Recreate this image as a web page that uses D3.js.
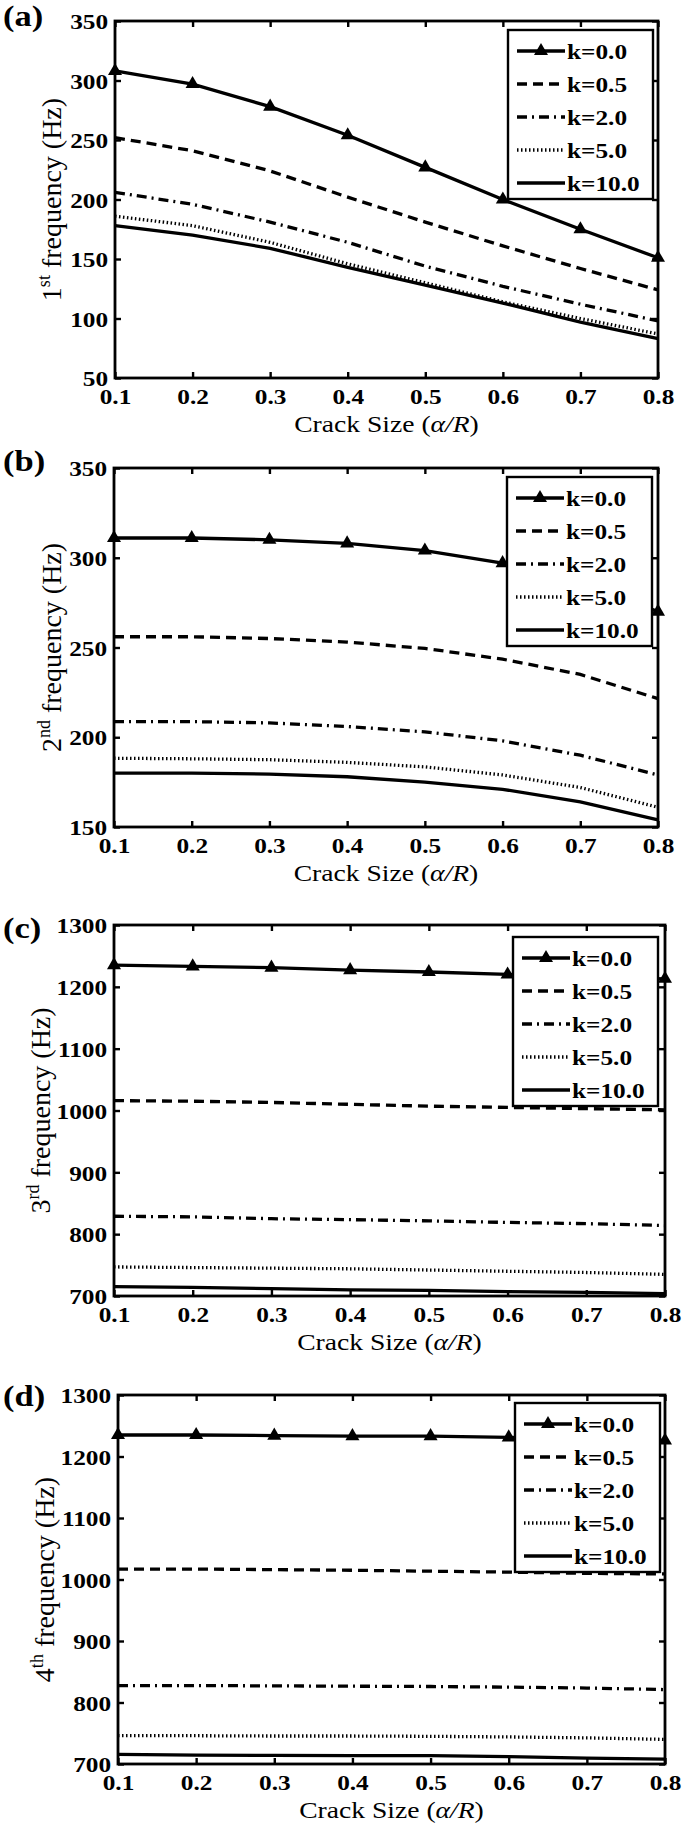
<!DOCTYPE html>
<html>
<head>
<meta charset="utf-8">
<script src="https://cdn.jsdelivr.net/npm/d3@7"></script>
<style>
  body { margin: 0; background: #fff; }
  svg { display: block; }
  text { font-family: "Liberation Serif", "Times New Roman", Times, serif; fill: #000; }
</style>
</head>
<body>
<svg id="chart" width="685" height="1828"></svg>
<script>
// Crack size (alpha/R) on the x axis
const crackSize = [0.1, 0.2, 0.3, 0.4, 0.5, 0.6, 0.7, 0.8];
const kLabels = ["k=0.0", "k=0.5", "k=2.0", "k=5.0", "k=10.0"];

// Frequencies (Hz), one row per k value
const freq1st = [
  [308, 297, 278, 254, 227, 200, 175, 151],
  [252, 241, 224, 202, 181, 161, 142, 124],
  [206, 196, 181, 164, 144, 127, 112, 98],
  [186, 178, 164, 146, 130, 114, 100, 87],
  [178, 170, 159, 143, 128, 113, 97, 83]
];
const freq2nd = [
  [311, 311, 310, 308, 304, 297, 286, 270],
  [256, 256, 255, 253, 249.5, 243.5, 235, 221.5],
  [208.7, 208.7, 208, 206, 203, 198, 190, 179],
  [188.3, 188, 187.5, 186, 183.5, 179, 172, 161],
  [180, 180, 179.5, 178, 175, 171, 164, 154]
];
const freq3rd = [
  [1235, 1233, 1231, 1227, 1224, 1220, 1216, 1213],
  [1016, 1015, 1013, 1010, 1007, 1005, 1003, 1001],
  [829, 828, 825, 823.5, 821.5, 819, 817, 814],
  [747, 746, 745, 744, 742, 740, 738, 735],
  [715, 714, 712, 710, 709, 707, 706, 704]
];
const freq4th = [
  [1235, 1235, 1234, 1233, 1233, 1231, 1229, 1226],
  [1017, 1017, 1016, 1015, 1013.5, 1012, 1010, 1009],
  [827.6, 827.6, 827, 826.5, 826, 825, 823.5, 821],
  [746, 746, 745.5, 745.5, 745, 744, 742.5, 740],
  [715.5, 714.5, 714, 713.5, 713.5, 712, 709.5, 708]
];

const yTicksLow = [50, 100, 150, 200, 250, 300, 350];
const yTicksMid = [150, 200, 250, 300, 350];
const yTicksHigh = [700, 800, 900, 1000, 1100, 1200, 1300];

// Panel layout (pixels)
const panels = [
  { tag: "(a)", tagY: 26, ord: "1", sup: "st", data: freq1st, yDomain: [50, 350], yTicks: yTicksLow,
    l: 115, r: 658, t: 21, b: 378, labelX: 61, legX: 508, legY: 30 },
  { tag: "(b)", tagY: 471, ord: "2", sup: "nd", data: freq2nd, yDomain: [150, 350], yTicks: yTicksMid,
    l: 114, r: 658, t: 468, b: 827, labelX: 61, legX: 507, legY: 477 },
  { tag: "(c)", tagY: 938, ord: "3", sup: "rd", data: freq3rd, yDomain: [700, 1300], yTicks: yTicksHigh,
    l: 114, r: 665, t: 925, b: 1296, labelX: 50, legX: 513, legY: 937 },
  { tag: "(d)", tagY: 1406, ord: "4", sup: "th", data: freq4th, yDomain: [700, 1300], yTicks: yTicksHigh,
    l: 118, r: 665, t: 1395, b: 1764, labelX: 54, legX: 515, legY: 1403 }
];

// line styles per k
const dashes = [null, "10,6", "10,5,2,5", "1.5,2.5", null];
const lineW = 3.3;
const markSize = 85;
const stretch = "scale(1.15,1)";
const svg = d3.select("#chart");

panels.forEach((p) => {
  const g = svg.append("g");
  const x = d3.scaleLinear().domain([0.1, 0.8]).range([p.l, p.r]);
  const y = d3.scaleLinear().domain(p.yDomain).range([p.b, p.t]);

  const line = d3.line()
    .x((d, i) => x(crackSize[i]))
    .y((d) => y(d));

  // series lines
  p.data.forEach((series, k) => {
    g.append("path")
      .datum(series)
      .attr("d", line)
      .attr("fill", "none")
      .attr("stroke", "#000")
      .attr("stroke-width", lineW)
      .attr("stroke-dasharray", dashes[k]);
  });

  // triangle markers on k=0.0
  g.selectAll(".mark")
    .data(p.data[0])
    .enter()
    .append("path")
    .attr("d", d3.symbol(d3.symbolTriangle, markSize))
    .attr("transform", (d, i) => `translate(${x(crackSize[i])},${y(d)})`)
    .attr("fill", "#000");

  // axes with inward ticks on all four sides
  const axisFont = (sel) => sel.attr("font-family", null).attr("font-size", null);

  const bottom = g.append("g")
    .attr("transform", `translate(0,${p.b})`)
    .call(d3.axisBottom(x).tickValues(crackSize).tickSize(-6).tickSizeOuter(0).tickPadding(10).tickFormat(d3.format(".1f")))
    .call(axisFont);
  const left = g.append("g")
    .attr("transform", `translate(${p.l},0)`)
    .call(d3.axisLeft(y).tickValues(p.yTicks).tickSize(-6).tickSizeOuter(0).tickPadding(6).tickFormat(d3.format("d")))
    .call(axisFont);
  g.append("g")
    .attr("transform", `translate(0,${p.t})`)
    .call(d3.axisTop(x).tickValues(crackSize).tickSize(-6).tickSizeOuter(0).tickFormat(""));
  g.append("g")
    .attr("transform", `translate(${p.r},0)`)
    .call(d3.axisRight(y).tickValues(p.yTicks).tickSize(-6).tickSizeOuter(0).tickFormat(""));

  g.selectAll(".domain").remove();
  g.selectAll(".tick line").attr("stroke", "#000").attr("stroke-width", 2.4);
  [bottom, left].forEach((ax) => {
    ax.selectAll(".tick text")
      .attr("font-size", 22)
      .attr("font-weight", "bold")
      .attr("transform", stretch);
  });
  left.selectAll(".tick text").attr("dy", "0.35em");

  // axes box
  g.append("rect")
    .attr("x", p.l).attr("y", p.t)
    .attr("width", p.r - p.l).attr("height", p.b - p.t)
    .attr("fill", "none")
    .attr("stroke", "#000")
    .attr("stroke-width", 2.8);

  // x label
  const xl = g.append("text")
    .attr("transform", `translate(${(p.l + p.r) / 2},${p.b + 54}) ${stretch}`)
    .attr("text-anchor", "middle")
    .attr("font-size", 24);
  xl.append("tspan").text("Crack Size (");
  xl.append("tspan").attr("font-style", "italic").text("α/R");
  xl.append("tspan").text(")");

  // y label
  const yl = g.append("text")
    .attr("transform", `translate(${p.labelX},${(p.t + p.b) / 2}) rotate(-90)`)
    .attr("text-anchor", "middle")
    .attr("font-size", 28);
  yl.append("tspan").text(p.ord);
  yl.append("tspan").attr("font-size", 18).attr("dy", -11).text(p.sup);
  yl.append("tspan").attr("dy", 11).text(" frequency (Hz)");

  // panel tag
  g.append("text")
    .attr("transform", `translate(3,${p.tagY}) ${stretch}`)
    .attr("font-size", 30)
    .attr("font-weight", "bold")
    .text(p.tag);

  // legend
  const leg = g.append("g").attr("transform", `translate(${p.legX},${p.legY})`);
  leg.append("rect")
    .attr("width", 145).attr("height", 169)
    .attr("fill", "#fff")
    .attr("stroke", "#000")
    .attr("stroke-width", 2.4);
  kLabels.forEach((lab, k) => {
    const ry = 21 + k * 33;
    leg.append("line")
      .attr("x1", 9).attr("x2", 57)
      .attr("y1", ry).attr("y2", ry)
      .attr("stroke", "#000")
      .attr("stroke-width", lineW)
      .attr("stroke-dasharray", dashes[k]);
    if (k === 0) {
      leg.append("path")
        .attr("d", d3.symbol(d3.symbolTriangle, markSize))
        .attr("transform", `translate(33,${ry})`)
        .attr("fill", "#000");
    }
    leg.append("text")
      .attr("transform", `translate(59,${ry}) ${stretch}`)
      .attr("dy", "0.35em")
      .attr("font-size", 22)
      .attr("font-weight", "bold")
      .text(lab);
  });
});
</script>
</body>
</html>
